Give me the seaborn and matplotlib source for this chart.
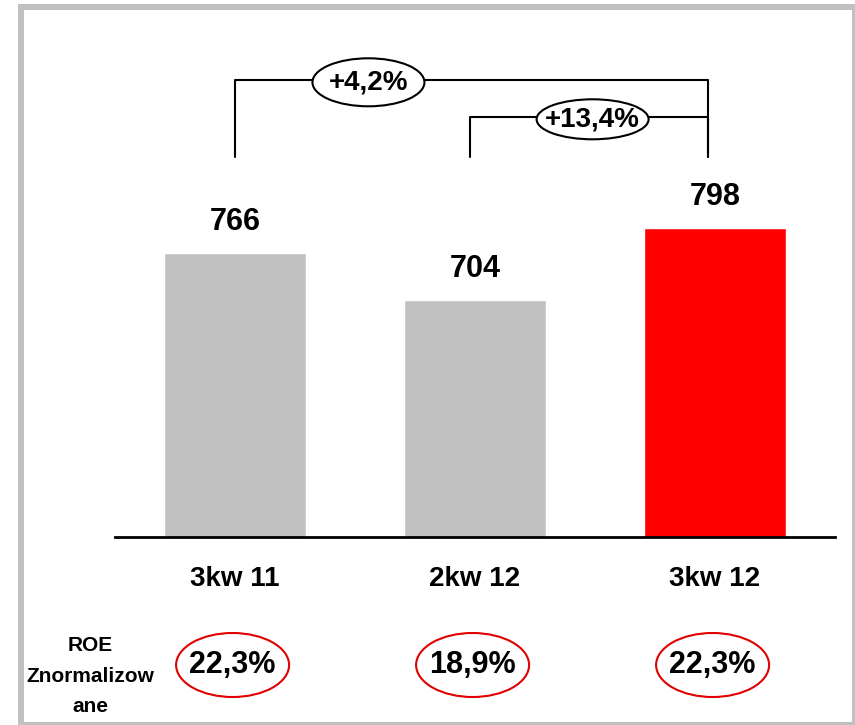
import matplotlib
matplotlib.use("Agg")
import matplotlib.pyplot as plt
from matplotlib.patches import Ellipse, Rectangle
import seaborn as sns
import pandas as pd

# data
quarters = ["3kw 11", "2kw 12", "3kw 12"]
values = [766, 704, 798]
bar_colors = ["#C0C0C0", "#C0C0C0", "#FF0000"]
roe_values = ["22,3%", "18,9%", "22,3%"]
roe_label = "ROE\nZnormalizow\nane"
changes = ["+4,2%", "+13,4%"]

sns.set_theme(style="white")
plt.rcParams["font.family"] = ["Liberation Sans", "DejaVu Sans"]
plt.rcParams["font.weight"] = "bold"
plt.rcParams["text.color"] = "black"
plt.rcParams["xtick.color"] = "black"
plt.rcParams["xtick.labelcolor"] = "black"

df = pd.DataFrame({"quarter": quarters, "value": values})

W, H = 855, 725
fig = plt.figure(figsize=(W / 100, H / 100), dpi=100)
ax = fig.add_axes([115 / W, (H - 537) / H, 720 / W, 517 / H])

sns.barplot(data=df, x="quarter", y="value", hue="quarter", palette=bar_colors,
            legend=False, width=0.59, saturation=1, ax=ax)

# y scale: 0.766 px per unit, baseline at 395
y0 = 395
ppu = 0.766
ax.set_ylim(y0, y0 + 517 / ppu)
ax.set_xlim(-0.5, 2.5)

for s in ["top", "right", "left"]:
    ax.spines[s].set_visible(False)
ax.spines["bottom"].set_linewidth(2)
ax.spines["bottom"].set_color("black")
ax.set_yticks([])
ax.set_xlabel("")
ax.set_ylabel("")
ax.tick_params(axis="x", length=0, pad=21, labelsize=20, labelcolor="black")
for lab in ax.get_xticklabels():
    lab.set_fontweight("bold")

# value labels above bars
for i, v in enumerate(values):
    ax.annotate(str(v), (i, v), xytext=(0, 16.5), textcoords="offset points",
                ha="center", va="baseline", fontsize=22, fontweight="bold",
                color="black")


def py(px):
    # pixel row -> data y
    return y0 + (537 - px) / ppu


# change brackets
leg_bottom = py(157)
brackets = [(0, 1.97, py(80), 0.556, 48), (0.98, 1.97, py(117), 1.49, 40)]
for (xa, xb, yl, xc, eh), txt in zip(brackets, changes):
    ax.plot([xa, xa, xb, xb], [leg_bottom, yl, yl, leg_bottom], color="black",
            lw=1.5, clip_on=False)
    ax.add_patch(Ellipse((xc, yl - 3), 112 / 240, eh / ppu, facecolor="white",
                         edgecolor="black", lw=1.5, clip_on=False, zorder=3))
    ax.text(xc, yl - 3, txt, ha="center", va="center", fontsize=20,
            fontweight="bold", color="black", zorder=4)

# ROE row
roe_y = py(665)
for i, txt in enumerate(roe_values):
    ax.add_patch(Ellipse((i - 0.01, roe_y), 113 / 240, 64 / ppu, facecolor="none",
                         edgecolor="#E00000", lw=1.5, clip_on=False))
    ax.text(i - 0.01, roe_y, txt, ha="center", va="center", fontsize=22,
            fontweight="bold", color="black")

fig.text(90 / W, (H - 676) / H, roe_label, ha="center", va="center",
         fontsize=15, fontweight="bold", linespacing=1.75, color="black")

# grey frame
fig.patches.append(Rectangle((21 / W, 0), 1 - 21 / W, (H - 7) / H,
                             transform=fig.transFigure, fill=False,
                             edgecolor="#C0C0C0", lw=4.3))

fig.savefig("out.png", dpi=100)
